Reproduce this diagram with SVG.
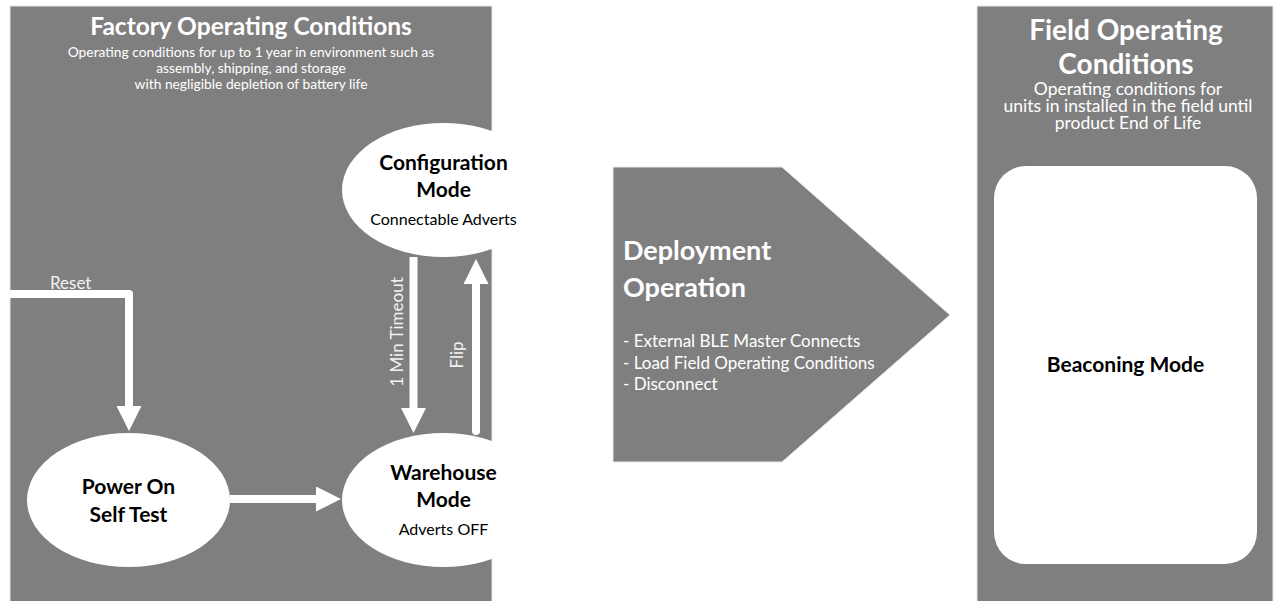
<svg xmlns="http://www.w3.org/2000/svg" width="1274" height="601" viewBox="0 0 1274 601">
<defs>
<style>
.panel{fill:#7f7f7f;stroke:#e4e9ef;stroke-width:1}
.node{fill:#ffffff}
.t{font-family:Lato,"Liberation Sans",sans-serif}
.wt{fill:#ffffff}
.lbl{fill:#f2f2f2;font-size:17px}
.nb{fill:#000000;font-weight:bold;font-size:21px;text-anchor:middle}
.ns{fill:#000000;font-size:16px;text-anchor:middle}
.conn{fill:none;stroke:#ffffff;stroke-width:8}
</style>
<marker id="ah" viewBox="0 0 25 25" refX="0" refY="12.5" markerWidth="25" markerHeight="25" markerUnits="userSpaceOnUse" orient="auto">
<path d="M0,0 L25,12.5 L0,25 z" fill="#ffffff"/>
</marker>
</defs>
<rect width="1274" height="601" fill="#ffffff"/>

<g id="factory-panel">
<rect class="panel" x="10" y="6" width="482" height="600"/>
<text class="t wt" x="251" y="35" font-size="24.5" font-weight="bold" text-anchor="middle">Factory Operating Conditions</text>
<text class="t wt" x="251" font-size="13.8" text-anchor="middle"><tspan x="251" y="57">Operating conditions for up to 1 year in environment such as</tspan><tspan x="251" y="73">assembly, shipping, and storage</tspan><tspan x="251" y="89">with negligible depletion of battery life</tspan></text>
</g>

<g id="deployment">
<path class="panel" d="M613,167 H782 L950,315 L782,462 H613 Z" stroke="none"/>
<text class="t wt" x="623" y="260" font-size="27" font-weight="bold">Deployment</text>
<text class="t wt" x="623" y="297" font-size="27" font-weight="bold">Operation</text>
<text class="t wt" font-size="17"><tspan x="623" y="347">- External BLE Master Connects</tspan><tspan x="623" y="368.5">- Load Field Operating Conditions</tspan><tspan x="623" y="390">- Disconnect</tspan></text>
</g>

<g id="field-panel">
<rect class="panel" x="977" y="6" width="296" height="600"/>
<text class="t wt" x="1126" y="40" font-size="28" font-weight="bold" text-anchor="middle">Field Operating</text>
<text class="t wt" x="1126" y="74" font-size="28" font-weight="bold" text-anchor="middle">Conditions</text>
<text class="t wt" font-size="17.5" text-anchor="middle"><tspan x="1128" y="95">Operating conditions for</tspan><tspan x="1128" y="112">units in installed in the field until</tspan><tspan x="1128" y="129">product End of Life</tspan></text>
</g>

<g id="beaconing-mode">
<rect class="node" x="994" y="166" width="263" height="398" rx="32" ry="32"/>
<text class="t nb" x="1125.5" y="372">Beaconing Mode</text>
</g>

<g id="configuration-mode">
<ellipse class="node" cx="443.5" cy="190" rx="101.5" ry="67"/>
<text class="t nb" x="443.5" y="170">Configuration</text>
<text class="t nb" x="443.5" y="197">Mode</text>
<text class="t ns" x="443.5" y="225">Connectable Adverts</text>
</g>

<g id="power-on-self-test">
<ellipse class="node" cx="128.5" cy="500" rx="101.5" ry="67"/>
<text class="t nb" x="128.5" y="494">Power On</text>
<text class="t nb" x="128.5" y="522">Self Test</text>
</g>

<g id="warehouse-mode">
<ellipse class="node" cx="443.5" cy="500" rx="101.5" ry="67"/>
<text class="t nb" x="443.5" y="480">Warehouse</text>
<text class="t nb" x="443.5" y="507">Mode</text>
<text class="t ns" x="443.5" y="535">Adverts OFF</text>
</g>

<g id="connectors">
<path class="conn" d="M0,294 H129 V406" stroke-width="7" stroke-linejoin="round" marker-end="url(#ah)"/>
<path class="conn" d="M230,499 H316" marker-end="url(#ah)"/>
<path class="conn" d="M413.5,257 V408" marker-end="url(#ah)"/>
<path class="conn" d="M476,431 V284" stroke-linecap="round" marker-end="url(#ah)"/>
<text class="t lbl" x="50" y="289">Reset</text>
<text class="t lbl" text-anchor="middle" transform="translate(403,332) rotate(-90)">1 Min Timeout</text>
<text class="t lbl" text-anchor="middle" transform="translate(463,355) rotate(-90)">Flip</text>
</g>
</svg>
